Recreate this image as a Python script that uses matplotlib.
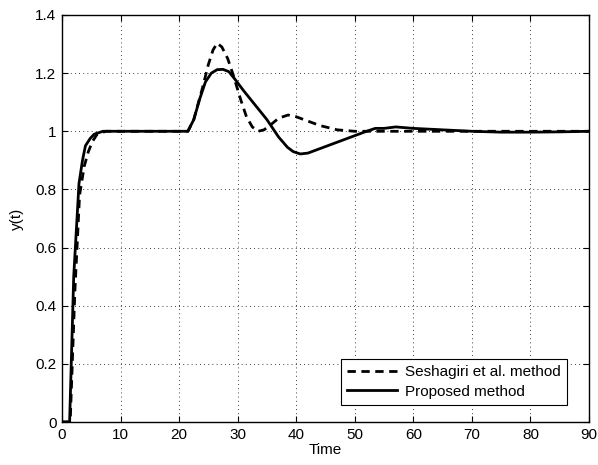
import matplotlib
matplotlib.use("Agg")
import matplotlib.pyplot as plt

plt.rcParams['font.family'] = ['Liberation Sans', 'DejaVu Sans']

# step responses
t_sesh = [0, 1.4, 2.2, 3.0, 3.8, 4.5, 5.2, 6.0, 7.5, 10, 21.5, 22.5, 24, 25, 25.8, 26.5, 27.3, 28.3, 29.3, 30.5, 31.5, 32.5, 33.5, 34.5, 35.5, 37, 38.6, 40, 42, 44, 47, 50, 60, 70, 80, 90]
y_sesh = [0, 0, 0.45, 0.78, 0.88, 0.93, 0.965, 0.99, 1.0, 1.0, 1.0, 1.04, 1.15, 1.23, 1.28, 1.303, 1.29, 1.25, 1.19, 1.11, 1.05, 1.015, 1.0, 1.005, 1.02, 1.045, 1.056, 1.05, 1.035, 1.02, 1.005, 1.0, 1.0, 1.0, 1.0, 1.0]

t_prop = [0, 1.3, 2.0, 2.9, 3.5, 4.0, 4.8, 5.5, 7.0, 10, 21.5, 22.5, 23.5, 24.5, 25.5, 26.5, 27.5, 28.5, 29.5, 31, 33, 35, 37, 38.5, 39.5, 40.7, 42, 44, 46, 48, 50, 52, 53.5, 55, 57, 60, 65, 70, 75, 80, 85, 90]
y_prop = [0, 0, 0.5, 0.82, 0.9, 0.95, 0.975, 0.99, 1.0, 1.0, 1.0, 1.04, 1.11, 1.17, 1.2, 1.212, 1.213, 1.205, 1.18, 1.14, 1.09, 1.04, 0.98, 0.945, 0.93, 0.922, 0.925, 0.94, 0.955, 0.97, 0.985, 1.0, 1.01, 1.01, 1.015, 1.01, 1.005, 1.0, 0.997, 0.997, 0.998, 1.0]

fig = plt.figure(figsize=(5.98, 4.65), dpi=100)
ax = fig.add_axes([62 / 598, 43 / 465, 527 / 598, 407 / 465])

ax.plot(t_sesh, y_sesh, 'k--', lw=2, dashes=(3, 2), label='Seshagiri et al. method')
ax.plot(t_prop, y_prop, 'k-', lw=2, label='Proposed method')

ax.set_xlim(0, 90)
ax.set_ylim(0, 1.4)
ax.set_xticks(range(0, 91, 10))
ax.set_yticks([0, 0.2, 0.4, 0.6, 0.8, 1, 1.2, 1.4])
ax.set_yticklabels(['0', '0.2', '0.4', '0.6', '0.8', '1', '1.2', '1.4'])
ax.grid(True, color='k', linestyle=(0, (1, 4)), linewidth=0.6)
ax.tick_params(direction='in', top=True, right=True, labelsize=11, length=4, pad=4)
for s in ax.spines.values():
    s.set_linewidth(1.0)

ax.set_xlabel('Time', fontsize=11, labelpad=1)
ax.set_ylabel('y(t)', fontsize=11, labelpad=8)

leg = ax.legend(loc='lower right', bbox_to_anchor=(0.958, 0.042), borderaxespad=0,
                fontsize=11, fancybox=False, framealpha=1, edgecolor='k',
                handlelength=3.3, handletextpad=0.5, labelspacing=0.35,
                borderpad=0.4)
leg.get_frame().set_linewidth(0.8)

fig.savefig('out.png', dpi=100)
